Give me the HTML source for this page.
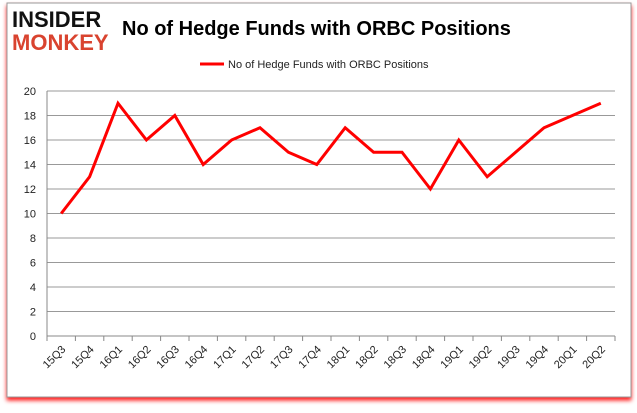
<!DOCTYPE html>
<html><head><meta charset="utf-8"><style>
body{margin:0;background:#fff;width:637px;height:408px;overflow:hidden;font-family:"Liberation Sans",sans-serif}
</style></head><body>
<svg width="637" height="408" viewBox="0 0 637 408">
<defs><filter id="sh" x="-5%" y="-5%" width="110%" height="115%"><feDropShadow dx="0" dy="3" stdDeviation="2" flood-color="#f00" flood-opacity="0.9"/></filter></defs>
<rect x="7" y="3" width="624" height="394" fill="#fff" stroke="#999" filter="url(#sh)"/>
<text x="12" y="27" font-size="22" font-weight="bold" fill="#111" font-family="Liberation Sans">INSIDER</text>
<text x="12" y="50" font-size="22" font-weight="bold" fill="#d9432f" font-family="Liberation Sans">MONKEY</text>
<text x="122" y="35" font-size="20" font-weight="bold" fill="#000">No of Hedge Funds with ORBC Positions</text>
<line x1="200" y1="64" x2="224" y2="64" stroke="#f00" stroke-width="3"/>
<text x="228" y="68" font-size="11" fill="#222">No of Hedge Funds with ORBC Positions</text>
<g id="grid"></g><g id="xax"></g>
<polyline id="series" fill="none" stroke="#f00" stroke-width="3" stroke-linejoin="miter"/>
</svg>
<script>
const categories=["15Q3","15Q4","16Q1","16Q2","16Q3","16Q4","17Q1","17Q2","17Q3","17Q4","18Q1","18Q2","18Q3","18Q4","19Q1","19Q2","19Q3","19Q4","20Q1","20Q2"];
const values=[10,13,19,16,18,14,16,17,15,14,17,15,15,12,16,13,15,17,18,19];
const yTicks=[0,2,4,6,8,10,12,14,16,18,20];
const L=47,R=615,T=91,B=336,NS="http://www.w3.org/2000/svg";
const band=(R-L)/categories.length;
const x=i=>L+band*(i+0.5), y=v=>B-(v/20)*(B-T);
const g=document.getElementById('grid'),xa=document.getElementById('xax');
function mk(tag,at,parent){const e=document.createElementNS(NS,tag);for(const k in at)e.setAttribute(k,at[k]);parent.appendChild(e);return e;}
yTicks.forEach(t=>{
 const l=mk('line',{x1:L,x2:R,y1:y(t),y2:y(t),stroke:t===0?'#888':'#999','stroke-width':1},g);
 
 
 const tx=mk('text',{x:L-11,y:y(t)+4,'font-size':11,'text-anchor':'end',fill:'#222'},g);tx.textContent=t;
 
 
});
mk('line',{x1:L,x2:L,y1:T,y2:B,stroke:'#888'},g);
categories.forEach((c,i)=>{
 const tk=mk('line',{x1:L+band*i,x2:L+band*i,y1:B,y2:B+5,stroke:'#888'},xa);
 
 
 const tx=mk('text',{x:0,y:0,'font-size':11,'text-anchor':'end',fill:'#222',transform:`translate(${x(i)+5},${B+14}) rotate(-45)`},xa);tx.textContent=c;
 
 
});
mk('line',{x1:R,x2:R,y1:B,y2:B+5,stroke:'#888'},xa);
document.getElementById('series').setAttribute('points',values.map((v,i)=>x(i)+','+y(v)).join(' '));
</script>
</body></html>
